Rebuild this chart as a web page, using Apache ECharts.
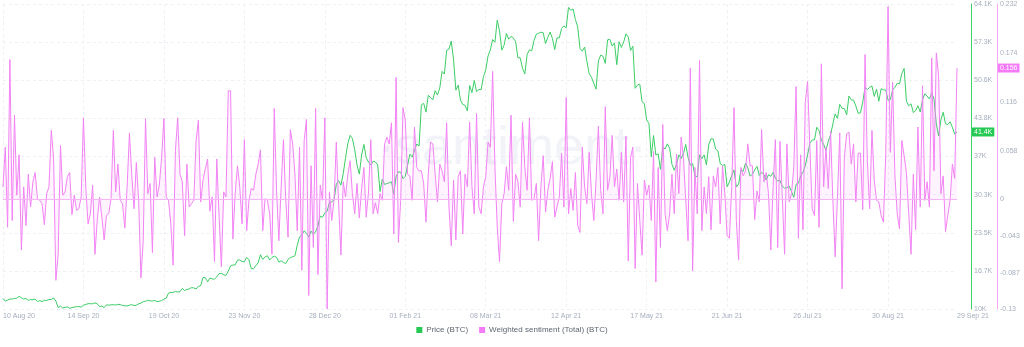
<!DOCTYPE html>
<html>
<head>
<meta charset="utf-8">
<script src="https://cdn.jsdelivr.net/npm/echarts@6/dist/echarts.min.js"></script>
<style>
  html, body { margin: 0; padding: 0; background: #ffffff; }
  #chart { width: 1024px; height: 347px; }
</style>
</head>
<body>
<div id="chart"></div>
<script>
// Daily series, first day 10 Aug 2020
const startDate = '2020-08-10';

// BTC price, thousands of USD
const priceK = [
  // Aug 2020
  11.88,11.39,11.57,11.78,11.77,11.87,11.91,12.25,11.99,11.75,11.87,11.52,11.68,11.65,11.75,11.32,11.47,11.32,11.54,11.51,11.68,11.68,
  // Sep 2020
  11.97,11.41,10.25,10.51,10.17,10.28,10.37,10.13,10.24,10.36,10.40,10.44,10.33,10.68,10.79,10.95,10.94,10.93,11.08,10.92,10.42,10.54,10.24,10.74,10.69,10.73,10.77,10.70,10.84,10.78,
  // Oct 2020
  10.62,10.57,10.55,10.67,10.79,10.60,10.67,10.92,11.06,11.30,11.38,11.56,11.43,11.43,11.50,11.32,11.37,11.50,11.75,11.92,12.82,12.97,12.93,13.11,13.03,13.07,13.65,13.27,13.46,13.56,13.80,
  // Nov 2020
  13.74,13.55,14.03,14.13,15.58,15.57,14.83,15.48,15.33,15.30,15.70,16.28,16.32,16.07,15.96,16.72,17.65,17.80,17.82,18.66,18.70,18.41,18.37,19.16,18.72,17.15,17.14,17.72,18.18,19.63,
  // Dec 2020
  18.80,19.20,19.45,18.70,19.15,19.36,19.17,18.32,18.55,18.26,18.06,18.80,19.14,19.25,19.44,21.31,22.81,23.14,23.87,23.48,22.75,23.82,23.24,23.73,24.71,26.49,26.28,27.08,27.36,28.84,29.00,
  // Jan 2021
  29.37,32.13,32.78,31.97,33.99,36.82,39.37,40.80,40.25,38.24,35.54,33.92,37.32,39.19,36.83,36.07,35.55,36.23,36.07,35.55,30.83,33.01,32.08,32.26,32.37,32.57,30.43,33.47,34.32,34.27,33.11,
  // Feb 2021
  33.52,35.51,37.47,36.93,38.14,39.27,38.90,46.20,46.48,44.92,47.91,47.50,47.11,48.72,47.94,49.20,52.15,51.68,55.89,56.10,57.54,54.21,48.82,49.71,47.06,46.28,46.11,45.14,
  // Mar 2021
  49.63,48.38,50.54,48.56,48.93,48.91,51.21,52.38,54.88,55.96,57.80,57.33,61.24,59.30,55.91,56.80,58.87,57.86,58.35,58.09,57.41,54.53,54.55,52.70,51.70,55.14,55.98,55.78,57.63,58.73,58.92,
  // Apr 2021
  59.10,59.00,57.08,58.20,59.13,57.99,56.02,58.09,58.09,59.77,60.20,59.89,63.50,62.97,63.22,61.34,60.04,56.22,55.72,56.47,53.91,51.76,51.09,50.05,49.00,54.02,55.03,54.82,53.56,57.75,
  // May 2021
  57.83,56.63,57.20,53.33,57.42,56.40,57.36,58.80,58.23,55.86,56.61,49.15,49.72,49.88,46.76,46.43,43.54,42.91,37.00,40.78,37.30,37.54,34.77,38.71,38.40,39.29,38.53,35.66,34.61,35.68,37.34,
  // Jun 2021
  36.69,37.58,39.19,36.87,35.52,35.80,33.59,33.47,37.35,36.68,37.33,35.55,39.10,40.22,40.16,38.35,38.05,35.79,35.48,35.60,31.68,32.51,33.68,34.66,31.64,32.16,34.64,34.43,35.87,35.04,
  // Jul 2021
  33.57,33.90,34.66,35.29,33.69,34.22,33.86,32.88,33.82,33.52,34.24,33.16,32.70,32.82,31.78,31.42,31.53,31.80,30.82,29.81,32.11,32.31,33.58,34.29,35.38,37.34,39.41,39.99,40.02,42.24,41.63,
  // Aug 2021
  39.97,39.20,38.15,39.75,40.87,42.82,44.61,43.82,46.29,45.59,45.58,44.43,47.79,47.10,47.05,46.00,44.70,44.80,46.72,49.34,48.91,49.32,49.55,47.71,48.99,46.85,49.07,48.90,48.83,47.05,47.17,
  // Sep 2021
  48.85,49.33,50.03,49.94,51.77,52.66,46.86,46.05,46.40,44.85,45.17,46.06,44.96,47.09,48.18,47.78,47.26,48.28,47.26,42.84,40.69,43.57,44.90,42.84,42.72,43.21,42.24,41.03,41.40
];

// Weighted sentiment (Total), one value per day
const sentiment = [
  0.015,0.062,-0.033,0.166,-0.025,0.100,0.005,0.053,-0.060,0.015,
  -0.031,0.030,-0.009,0.021,0.032,0.001,-0.001,-0.005,-0.030,0.007,
  0.015,0.082,0.050,-0.096,-0.065,0.064,0.005,0.009,0.027,0.032,
  -0.018,0.005,-0.013,-0.011,0.003,0.097,0.015,-0.029,-0.017,0.017,
  -0.065,-0.025,0.003,-0.021,-0.048,-0.019,-0.017,0.001,0.082,0.009,
  0.042,-0.001,-0.005,-0.034,0.015,0.079,0.030,-0.011,0.044,-0.001,
  -0.093,-0.049,0.096,0.007,0.019,-0.063,0.050,0.003,0.017,0.050,
  0.096,0.003,-0.001,-0.029,-0.078,0.058,0.097,0.030,0.021,-0.043,
  0.042,-0.009,-0.005,-0.001,0.070,0.094,-0.003,0.023,0.036,0.048,
  -0.014,0.003,-0.074,0.048,-0.021,-0.080,0.009,0.003,0.129,0.129,
  -0.047,0.007,0.040,0.015,-0.029,
  0.071,-0.037,-0.001,0.013,0.011,0.030,0.042,0.059,-0.037,0.001,
  -0.001,-0.017,-0.065,0.108,0.011,-0.049,0.015,0.071,-0.001,-0.045,
  0.083,0.066,0.030,-0.037,0.062,-0.084,0.070,0.095,-0.114,0.040,
  -0.057,0.108,-0.089,0.017,-0.001,0.097,-0.130,0.009,-0.025,-0.001,
  0.068,-0.005,-0.066,0.021,0.003,0.030,0.046,0.007,-0.017,0.019,
  -0.022,0.013,0.038,-0.021,0.009,0.071,-0.017,-0.004,-0.017,0.007,
  -0.001,0.066,0.074,0.066,0.091,-0.041,0.145,-0.051,-0.001,0.109,
  0.094,0.030,0.028,-0.001,0.086,0.038,0.034,0.034,0.019,-0.027,
  0.030,0.068,0.066,0.030,-0.003,0.042,0.034,0.021,0.091,-0.009,
  -0.055,0.023,-0.048,0.027,0.034,-0.041,0.030,0.015,0.092,0.015,
  -0.017,0.102,-0.009,-0.017,
  0.015,0.027,0.068,0.062,0.152,0.038,-0.033,-0.074,-0.005,0.007,
  0.039,0.011,0.100,-0.026,0.030,0.021,-0.009,0.092,0.038,0.011,
  0.097,-0.001,0.001,0.019,-0.049,0.015,0.052,-0.015,0.011,0.025,
  0.045,-0.021,-0.009,0.003,0.055,-0.009,0.121,-0.017,0.013,-0.013,
  0.032,-0.031,-0.039,0.062,0.015,-0.005,0.056,0.007,-0.025,0.023,
  0.087,0.011,-0.017,0.110,0.011,0.027,0.076,0.015,0.036,-0.001,
  0.056,-0.003,0.075,-0.073,0.050,0.062,-0.082,0.019,-0.025,-0.066,
  0.023,0.005,0.017,-0.025,0.057,-0.098,0.038,-0.057,0.089,-0.017,
  -0.037,-0.017,0.030,-0.017,0.054,0.007,0.074,0.050,-0.001,-0.049,
  0.156,-0.085,0.038,-0.017,0.165,-0.037,0.015,-0.017,0.027,-0.036,
  0.028,0.015,0.038,-0.029,
  0.040,0.007,-0.043,-0.046,0.015,0.109,-0.025,-0.072,0.038,0.028,
  0.034,0.066,0.040,0.040,-0.024,0.010,-0.003,0.083,0.021,0.032,
  0.007,-0.060,0.015,0.071,-0.057,0.069,0.003,-0.065,0.066,-0.003,
  0.007,0.038,0.134,-0.046,0.053,-0.036,0.116,0.140,0.062,-0.011,
  -0.019,0.070,-0.033,0.161,0.015,0.062,0.013,0.081,-0.001,-0.068,
  0.003,0.079,-0.106,0.050,0.078,0.080,0.042,0.066,-0.003,0.055,
  0.055,-0.012,0.172,0.046,-0.011,0.082,0.023,-0.001,-0.003,-0.019,
  -0.027,0.054,0.229,0.056,0.139,0.028,-0.017,-0.035,0.070,0.052,
  0.032,-0.017,-0.065,0.030,-0.036,0.086,-0.009,0.135,-0.001,0.021,
  -0.009,0.168,0.034,0.174,0.147,0.007,0.028,-0.038,-0.019,-0.001,
  0.042,0.025,0.156
];

// Axis ranges and tick labels
const priceMin = 10;
const priceMax = 64.1;
const priceTickLabels = ['10K','16.7K','23.5K','30.3K','37K','43.8K','50.6K','57.3K','64.1K'];
const sentimentMin = -0.13;
const sentimentMax = 0.232;
const sentimentTicks = [-0.13, -0.087, -0.043, 0, 0.058, 0.116, 0.174, 0.232];
const labelEveryDays = 35;
const seriesNames = ['Price (BTC)', 'Weighted sentiment (Total) (BTC)'];

const GREEN = '#26c953';
const PINK = '#f47bf7';
const FONT = 'Liberation Sans, Arial, sans-serif';
const GRID_RIGHT = 67;

const MONTHS = ['Jan','Feb','Mar','Apr','May','Jun','Jul','Aug','Sep','Oct','Nov','Dec'];
function buildDates(start, n) {
  const out = [];
  const t0 = Date.parse(start + 'T00:00:00Z');
  for (let i = 0; i < n; i++) {
    const d = new Date(t0 + i * 86400000);
    const dd = String(d.getUTCDate()).padStart(2, '0');
    const yy = String(d.getUTCFullYear()).slice(2);
    out.push(dd + ' ' + MONTHS[d.getUTCMonth()] + ' ' + yy);
  }
  return out;
}
const dates = buildDates(startDate, priceK.length);
const lastIdx = dates.length - 1;

// Evenly spaced price ticks between min and max, one per label
const priceTicks = priceTickLabels.map((_, i) => priceMin + i * (priceMax - priceMin) / (priceTickLabels.length - 1));

const chart = echarts.init(document.getElementById('chart'), null, { renderer: 'canvas' });
const axisText = { color: '#a5aebe', fontSize: 7, fontFamily: FONT };

chart.setOption({
  animation: false,
  backgroundColor: '#ffffff',
  textStyle: { fontFamily: FONT },
  grid: { left: 0, right: GRID_RIGHT, top: 4, bottom: 38 },
  legend: {
    bottom: 8,
    left: 'center',
    icon: 'rect',
    itemWidth: 6,
    itemHeight: 6,
    itemGap: 11,
    textStyle: { color: '#5f6672', fontSize: 8, padding: [0, 0, 0, -1] },
    data: [
      { name: seriesNames[0], itemStyle: { color: GREEN } },
      { name: seriesNames[1], itemStyle: { color: PINK } }
    ]
  },
  graphic: [{
    id: 'watermark',
    type: 'text',
    left: 'center',
    top: 122,
    z: 0,
    silent: true,
    style: { text: '·santiment·', fill: '#f1f3f8', fontSize: 54, fontFamily: FONT }
  }],
  xAxis: {
    type: 'category',
    data: dates,
    boundaryGap: false,
    axisLine: { show: true, lineStyle: { color: '#e9ecf1' } },
    axisTick: { show: false },
    axisLabel: Object.assign({}, axisText, {
      margin: 4,
      interval: (i) => i % labelEveryDays === 0 || i === lastIdx,
      alignMinLabel: 'left',
      alignMaxLabel: 'left'
    }),
    splitLine: { show: true, interval: labelEveryDays - 1, lineStyle: { color: '#edf0f4', type: [3, 3] } }
  },
  yAxis: [
    {
      type: 'value',
      position: 'right',
      offset: 14,
      min: priceMin,
      max: priceMax,
      axisLine: { show: true, lineStyle: { color: '#3fd06a', width: 1 } },
      axisTick: { show: false, customValues: priceTicks },
      axisLabel: Object.assign({}, axisText, {
        margin: 3,
        customValues: priceTicks,
        formatter: (v) => {
          const i = priceTicks.findIndex((t) => Math.abs(t - v) < 1e-6);
          return i >= 0 ? priceTickLabels[i] : '';
        }
      }),
      splitLine: { show: true, lineStyle: { color: '#edf0f4', type: [3, 3] } }
    },
    {
      type: 'value',
      position: 'right',
      offset: 40,
      min: sentimentMin,
      max: sentimentMax,
      axisLine: { show: true, lineStyle: { color: '#f5a6f5', width: 1 } },
      axisTick: { show: false, customValues: sentimentTicks },
      axisLabel: Object.assign({}, axisText, {
        margin: 3,
        customValues: sentimentTicks,
        formatter: (v) => String(v)
      }),
      splitLine: { show: false }
    }
  ],
  series: [
    {
      name: seriesNames[0],
      type: 'line',
      yAxisIndex: 0,
      data: priceK,
      symbol: 'none',
      z: 2,
      itemStyle: { color: GREEN },
      lineStyle: { color: '#3ccd66', width: 1 }
    },
    {
      name: seriesNames[1],
      type: 'line',
      yAxisIndex: 1,
      data: sentiment,
      symbol: 'none',
      z: 3,
      itemStyle: { color: PINK },
      lineStyle: { color: '#f283f4', width: 1 },
      areaStyle: { color: 'rgba(244,123,247,0.13)' },
      markLine: {
        silent: true,
        symbol: 'none',
        label: { show: false },
        lineStyle: { color: '#f7b4f8', type: 'solid', width: 1 },
        data: [{ yAxis: 0 }]
      }
    }
  ]
});

// Latest-value badges on the two value axes
const lastPrice = priceK[lastIdx];
const lastSent = sentiment[lastIdx];
const priceY = chart.convertToPixel({ yAxisIndex: 0 }, lastPrice);
const sentY = chart.convertToPixel({ yAxisIndex: 1 }, lastSent);
const plotRight = chart.getWidth() - GRID_RIGHT;
const badgeStyle = { fill: '#ffffff', fontSize: 7, fontFamily: FONT, padding: [1, 2, 1, 2], verticalAlign: 'middle' };
chart.setOption({
  graphic: [
    {
      id: 'priceBadge',
      type: 'text',
      x: plotRight + 15,
      y: priceY,
      z: 10,
      silent: true,
      style: Object.assign({}, badgeStyle, { text: lastPrice.toFixed(1) + 'K', backgroundColor: GREEN })
    },
    {
      id: 'sentimentBadge',
      type: 'text',
      x: plotRight + 41,
      y: sentY,
      z: 10,
      silent: true,
      style: Object.assign({}, badgeStyle, { text: lastSent.toFixed(3), backgroundColor: PINK })
    }
  ]
});
</script>
</body>
</html>
